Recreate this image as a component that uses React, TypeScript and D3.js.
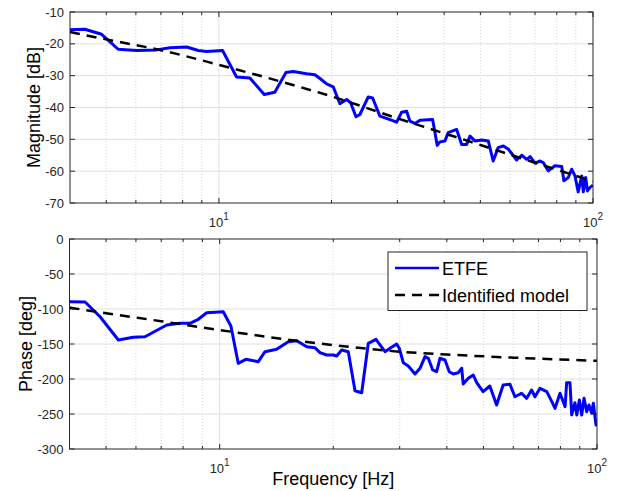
import React, { useEffect, useRef } from 'react';
import * as d3 from 'd3';

// ETFE magnitude
const magFreq = [4.0, 4.38, 4.86, 5.38, 6.03, 6.81, 7.4, 8.2, 8.81, 9.27, 10.23, 11.15, 12.1, 13.22, 14.11, 15.11, 15.8, 17.16, 18.06, 18.82, 19.41, 20.21, 21.06, 21.95, 22.5, 23.25, 23.82, 25.07, 25.76, 26.94, 28.66, 29.87, 30.8, 31.76, 32.41, 33.43, 34.48, 37.27, 38.34, 38.98, 40.2, 41.03, 43.21, 44.56, 45.95, 46.9, 48.36, 50.4, 52.5, 54.1, 55.8, 57.6, 59.4, 62.5, 64.5, 66.5, 67.9, 70.0, 72.2, 73.6, 75.9, 79.1, 82.5, 83.6, 85.9, 87.7, 89.5, 91.3, 93.3, 94.2, 95.6, 96.6, 98.2, 100];
const magEtfe = [-15.6, -15.4, -17.0, -21.7, -22.1, -21.9, -21.2, -21.0, -22.1, -22.4, -22.1, -30.4, -30.7, -35.9, -35.2, -29.0, -28.7, -29.4, -29.7, -31.3, -32.6, -33.5, -38.8, -37.5, -38.5, -42.9, -42.2, -36.7, -37.0, -42.7, -43.8, -44.6, -41.5, -41.2, -44.3, -45.0, -44.0, -43.8, -51.9, -50.8, -50.5, -47.9, -46.9, -51.6, -51.6, -49.0, -50.5, -50.2, -50.5, -56.8, -52.6, -52.1, -53.1, -56.5, -55.0, -56.3, -55.4, -57.5, -56.8, -57.3, -59.9, -58.3, -58.5, -63.0, -62.0, -59.4, -61.5, -66.5, -61.5, -66.5, -62.0, -66.2, -65.1, -64.4];

// ETFE phase
const phaseFreq = [4.0, 4.4, 4.82, 5.39, 5.9, 6.34, 7.24, 7.85, 8.34, 8.78, 9.24, 10.22, 10.71, 11.2, 11.74, 12.66, 13.19, 14.16, 15.2, 16.0, 17.01, 17.89, 18.44, 19.21, 20.0, 20.42, 21.06, 21.92, 22.84, 23.79, 24.77, 25.96, 27.43, 28.28, 29.45, 29.92, 30.66, 31.62, 32.94, 33.96, 35.01, 35.72, 36.69, 37.59, 38.36, 39.55, 40.6, 41.6, 42.9, 43.8, 44.2, 45.6, 47.0, 48.0, 49.9, 52.0, 54.2, 56.4, 58.8, 60.6, 63.1, 65.1, 67.1, 68.5, 70.6, 73.6, 75.9, 77.4, 79.8, 82.3, 83.1, 84.8, 85.7, 87.4, 88.4, 89.8, 91.1, 92.4, 93.9, 95.2, 96.8, 97.8, 99.4, 100];
const phaseEtfe = [-89.6, -90, -111, -144.3, -140.4, -139.6, -122.9, -120.4, -120.4, -114.7, -105.3, -103.9, -124.3, -177.6, -171.9, -175.3, -161, -157.6, -146.7, -145.3, -153.9, -155.3, -162.4, -165.7, -165.7, -167.1, -158.6, -161, -216.7, -219.6, -149, -143.3, -161, -156.1, -150, -156.1, -176.7, -181.4, -192.9, -184.7, -168.1, -170.4, -187.1, -189.6, -170.4, -172.9, -189.6, -192.9, -191, -184.7, -207.1, -199, -194.3, -205.3, -218.1, -210, -237.1, -208.6, -207.6, -225.3, -220.4, -227.6, -215.7, -225.3, -213.3, -218.1, -232.4, -241.9, -220.4, -239.6, -205.3, -205.3, -251.4, -233.9, -251.4, -230, -251.4, -227.6, -246.7, -237.1, -249, -234.7, -265.7, -258.6];

// identified model
const modelFreq = [4, 5, 7, 10, 15, 20, 30, 40, 60, 100];
const modelMag = [-16.3, -18.6, -22.0, -26.6, -32.2, -36.5, -43.4, -48.1, -54.8, -63.2];
const modelPhase = [-98, -106, -117.5, -130, -143.5, -151.5, -161, -165, -169.5, -174];

const magTicks = [-70, -60, -50, -40, -30, -20, -10];
const phaseTicks = [-300, -250, -200, -150, -100, -50, 0];
const legendLabels = ['ETFE', 'Identified model'];

const font = "'Liberation Sans', Arial, Helvetica, sans-serif";
const ink = '#262626';
const dash = '10,7';

const App = () => {
  const ref = useRef<SVGSVGElement>(null);

  useEffect(() => {
    const svg = d3.select(ref.current);
    svg.selectAll('*').remove();

    const panels = [
      { id: 'mag', left: 70, right: 593, top: 12, bottom: 203, ticks: magTicks, etfeF: magFreq, etfe: magEtfe, model: modelMag, title: 'Magnitude [dB]', titleX: 40 },
      { id: 'ph', left: 69.5, right: 597, top: 239, bottom: 449, ticks: phaseTicks, etfeF: phaseFreq, etfe: phaseEtfe, model: modelPhase, title: 'Phase [deg]', titleX: 32 },
    ];

    const minorF = [5, 6, 7, 8, 9, 20, 30, 40, 50, 60, 70, 80, 90];
    const majorF = [10, 100];

    panels.forEach((p, pi) => {
      const x = d3.scaleLog().domain([4, 100]).range([p.left, p.right]);
      const y = d3.scaleLinear().domain([p.ticks[0], p.ticks[p.ticks.length - 1]]).range([p.bottom, p.top]);
      const g = svg.append('g');

      g.append('rect')
        .attr('x', p.left).attr('y', p.top)
        .attr('width', p.right - p.left).attr('height', p.bottom - p.top)
        .attr('fill', '#fff');

      // grid
      g.selectAll('.minor').data(minorF).enter().append('line')
        .attr('x1', (d) => x(d)).attr('x2', (d) => x(d))
        .attr('y1', p.top).attr('y2', p.bottom)
        .attr('stroke', '#cccccc').attr('stroke-width', 0.8).attr('stroke-dasharray', '1,2');
      g.selectAll('.vmaj').data([10]).enter().append('line')
        .attr('x1', (d) => x(d)).attr('x2', (d) => x(d))
        .attr('y1', p.top).attr('y2', p.bottom)
        .attr('stroke', '#e0e0e0').attr('stroke-width', 1);
      g.selectAll('.hmaj').data(p.ticks.slice(1, -1)).enter().append('line')
        .attr('x1', p.left).attr('x2', p.right)
        .attr('y1', (d) => y(d)).attr('y2', (d) => y(d))
        .attr('stroke', '#e0e0e0').attr('stroke-width', 1);

      // data
      const clipId = `clip-${p.id}`;
      svg.append('clipPath').attr('id', clipId).append('rect')
        .attr('x', p.left).attr('y', p.top)
        .attr('width', p.right - p.left).attr('height', p.bottom - p.top);

      const line = d3.line<[number, number]>().x((d) => x(d[0])).y((d) => y(d[1]));
      const smooth = d3.line<[number, number]>().x((d) => x(d[0])).y((d) => y(d[1])).curve(d3.curveMonotoneX);

      g.append('path')
        .datum(p.etfeF.map((f, i) => [f, p.etfe[i]] as [number, number]))
        .attr('clip-path', `url(#${clipId})`)
        .attr('d', line)
        .attr('fill', 'none').attr('stroke', '#0000ff').attr('stroke-width', 3)
        .attr('stroke-linejoin', 'round');

      g.append('path')
        .datum(modelFreq.map((f, i) => [f, p.model[i]] as [number, number]))
        .attr('clip-path', `url(#${clipId})`)
        .attr('d', smooth)
        .attr('fill', 'none').attr('stroke', '#000').attr('stroke-width', 2.5)
        .attr('stroke-dasharray', dash);

      // box
      g.append('rect')
        .attr('x', p.left).attr('y', p.top)
        .attr('width', p.right - p.left).attr('height', p.bottom - p.top)
        .attr('fill', 'none').attr('stroke', ink).attr('stroke-width', 1);

      // ticks
      const tick = (xs: number[], len: number) => {
        xs.forEach((f) => {
          g.append('line').attr('x1', x(f)).attr('x2', x(f)).attr('y1', p.bottom).attr('y2', p.bottom - len).attr('stroke', ink);
          g.append('line').attr('x1', x(f)).attr('x2', x(f)).attr('y1', p.top).attr('y2', p.top + len).attr('stroke', ink);
        });
      };
      tick(minorF, 3);
      tick(majorF, 5);
      p.ticks.forEach((v) => {
        g.append('line').attr('x1', p.left).attr('x2', p.left + 5).attr('y1', y(v)).attr('y2', y(v)).attr('stroke', ink);
        g.append('line').attr('x1', p.right).attr('x2', p.right - 5).attr('y1', y(v)).attr('y2', y(v)).attr('stroke', ink);
      });

      // tick labels
      g.selectAll('.ylab').data(p.ticks).enter().append('text')
        .attr('x', p.left - 6).attr('y', (d) => y(d) + 4.5)
        .attr('text-anchor', 'end')
        .attr('font-family', font).attr('font-size', 13).attr('fill', ink)
        .text((d) => String(d));

      majorF.forEach((f) => {
        const t = g.append('text')
          .attr('x', x(f)).attr('y', p.bottom + 24)
          .attr('text-anchor', 'middle')
          .attr('font-family', font).attr('font-size', 13).attr('fill', ink);
        t.append('tspan').text('10');
        t.append('tspan').attr('dy', -7).attr('font-size', 10).text(String(Math.log10(f)));
      });

      // axis titles
      g.append('text')
        .attr('transform', `translate(${p.titleX},${(p.top + p.bottom) / 2}) rotate(-90)`)
        .attr('text-anchor', 'middle')
        .attr('font-family', font).attr('font-size', 18).attr('fill', '#000')
        .text(p.title);

      if (pi === 1) {
        g.append('text')
          .attr('x', (p.left + p.right) / 2).attr('y', 485)
          .attr('text-anchor', 'middle')
          .attr('font-family', font).attr('font-size', 18).attr('fill', '#000')
          .text('Frequency [Hz]');

        // legend
        const lg = g.append('g');
        lg.append('rect')
          .attr('x', 388).attr('y', 252).attr('width', 199).attr('height', 58.5)
          .attr('fill', '#fff').attr('stroke', ink).attr('stroke-width', 1);
        const styles = [
          { stroke: '#0000ff', dash: null },
          { stroke: '#000', dash },
        ];
        legendLabels.forEach((label, i) => {
          const ly = 268 + i * 27;
          lg.append('line')
            .attr('x1', 395).attr('x2', 439).attr('y1', ly).attr('y2', ly)
            .attr('stroke', styles[i].stroke).attr('stroke-width', 2.5)
            .attr('stroke-dasharray', styles[i].dash);
          lg.append('text')
            .attr('x', 442).attr('y', ly + 6.5)
            .attr('font-family', font).attr('font-size', 18).attr('fill', '#000')
            .text(label);
        });
      }
    });
  }, []);

  return <svg ref={ref} width={624} height={491} style={{ position: 'absolute', left: 0, top: 0, background: '#fff' }} />;
};

export default App;
